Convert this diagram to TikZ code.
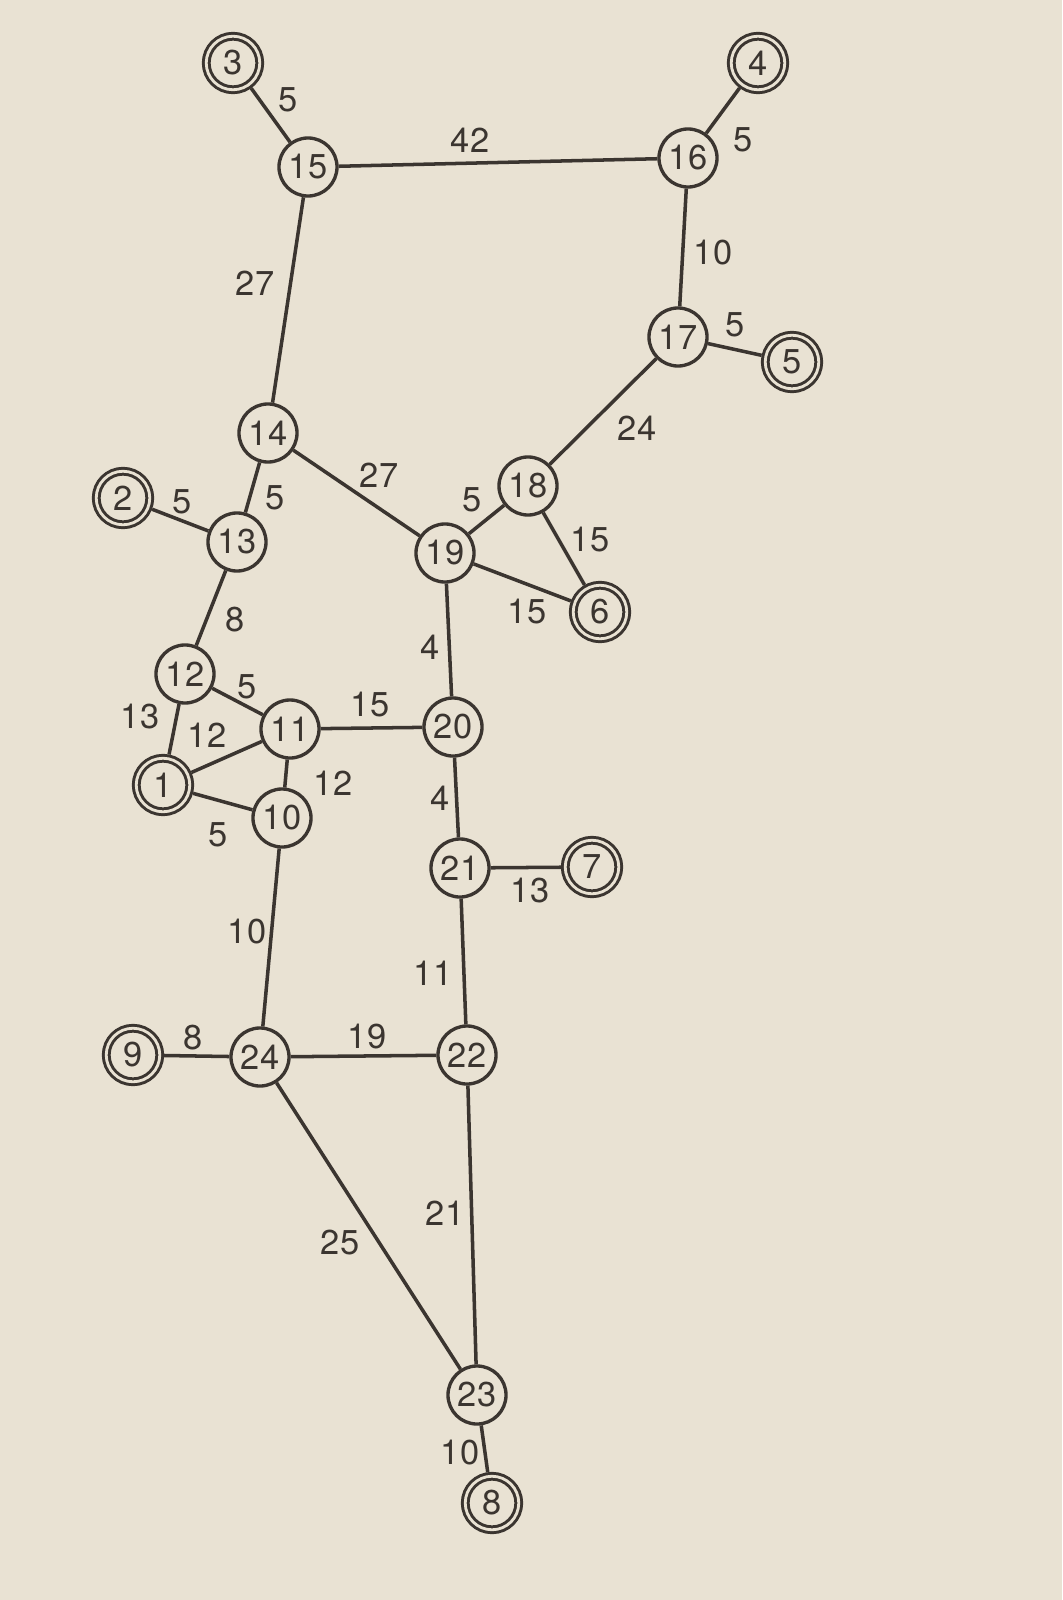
\documentclass[tikz,border=0pt]{standalone}
\usepackage{fontspec}
\setmainfont{TeX Gyre Heros}
\usetikzlibrary{positioning}
\definecolor{paper}{HTML}{E9E2D3}
\definecolor{ink}{HTML}{3B3530}
\newcommand{\numfont}{\fontsize{9.8}{11}\selectfont}

\begin{document}
\begin{tikzpicture}[
    x=0.01cm, y=-0.01cm,
    junction/.style={circle, draw=ink, fill=paper, line width=0.95pt, minimum size=0.58cm, inner sep=0pt, text=ink, font=\numfont},
    terminal/.style={circle, draw=ink, line width=0.85pt, double=paper, double distance=0.8pt, minimum size=0.535cm, inner sep=0pt, outer sep=1.25pt, text=ink, font=\numfont},
    cost/.style={inner sep=1pt, text=ink, font=\numfont},
    link/.style={draw=ink, line width=1pt}
]

% paper
\fill[paper] (0,0) rectangle (1062,1600);

% terminals
\node[terminal] (n1) at (163,785) {1};
\node[terminal] (n2) at (123,498) {2};
\node[terminal] (n3) at (233,63) {3};
\node[terminal] (n4) at (758,63) {4};
\node[terminal] (n5) at (792,362) {5};
\node[terminal] (n6) at (600,612) {6};
\node[terminal] (n7) at (592,867) {7};
\node[terminal] (n8) at (492,1503) {8};
\node[terminal] (n9) at (133,1055) {9};

% junctions
\node[junction] (n10) at (282,818) {10};
\node[junction] (n11) at (290,729) {11};
\node[junction] (n12) at (185,674) {12};
\node[junction] (n13) at (237,542) {13};
\node[junction] (n14) at (268,433) {14};
\node[junction] (n15) at (308,167) {15};
\node[junction] (n16) at (688,158) {16};
\node[junction] (n17) at (678,337) {17};
\node[junction] (n18) at (528,486) {18};
\node[junction] (n19) at (445,553) {19};
\node[junction] (n20) at (453,727) {20};
\node[junction] (n21) at (460,868) {21};
\node[junction] (n22) at (467,1055) {22};
\node[junction] (n23) at (477,1395) {23};
\node[junction] (n24) at (260,1057) {24};

% links
\draw[link] (n3) -- (n15);
\draw[link] (n15) -- (n16);
\draw[link] (n16) -- (n4);
\draw[link] (n15) -- (n14);
\draw[link] (n16) -- (n17);
\draw[link] (n17) -- (n5);
\draw[link] (n17) -- (n18);
\draw[link] (n14) -- (n13);
\draw[link] (n2) -- (n13);
\draw[link] (n14) -- (n19);
\draw[link] (n19) -- (n18);
\draw[link] (n18) -- (n6);
\draw[link] (n19) -- (n6);
\draw[link] (n13) -- (n12);
\draw[link] (n19) -- (n20);
\draw[link] (n12) -- (n11);
\draw[link] (n12) -- (n1);
\draw[link] (n1) -- (n11);
\draw[link] (n11) -- (n20);
\draw[link] (n11) -- (n10);
\draw[link] (n20) -- (n21);
\draw[link] (n1) -- (n10);
\draw[link] (n21) -- (n7);
\draw[link] (n10) -- (n24);
\draw[link] (n21) -- (n22);
\draw[link] (n9) -- (n24);
\draw[link] (n24) -- (n22);
\draw[link] (n22) -- (n23);
\draw[link] (n24) -- (n23);
\draw[link] (n23) -- (n8);

% costs
\node[cost] (c3-15) at (288,100) {5};
\node[cost] (c15-16) at (470,140) {42};
\node[cost] (c16-4) at (743,140) {5};
\node[cost] (c15-14) at (255,283) {27};
\node[cost] (c16-17) at (713,253) {10};
\node[cost] (c17-5) at (735,325) {5};
\node[cost] (c17-18) at (637,428) {24};
\node[cost] (c14-13) at (275,498) {5};
\node[cost] (c2-13) at (182,502) {5};
\node[cost] (c14-19) at (379,475) {27};
\node[cost] (c19-18) at (472,500) {5};
\node[cost] (c18-6) at (590,540) {15};
\node[cost] (c19-6) at (527,612) {15};
\node[cost] (c13-12) at (235,620) {8};
\node[cost] (c19-20) at (430,647) {4};
\node[cost] (c12-11) at (247,687) {5};
\node[cost] (c12-1) at (140,717) {13};
\node[cost] (c1-11) at (207,735) {12};
\node[cost] (c11-20) at (370,705) {15};
\node[cost] (c11-10) at (333,783) {12};
\node[cost] (c20-21) at (440,798) {4};
\node[cost] (c1-10) at (218,835) {5};
\node[cost] (c21-7) at (530,891) {13};
\node[cost] (c10-24) at (247,932) {10};
\node[cost] (c21-22) at (433,973) {11};
\node[cost] (c9-24) at (193,1038) {8};
\node[cost] (c24-22) at (367,1037) {19};
\node[cost] (c22-23) at (445,1213) {21};
\node[cost] (c24-23) at (340,1243) {25};
\node[cost] (c23-8) at (460,1453) {10};

\end{tikzpicture}
\end{document}
